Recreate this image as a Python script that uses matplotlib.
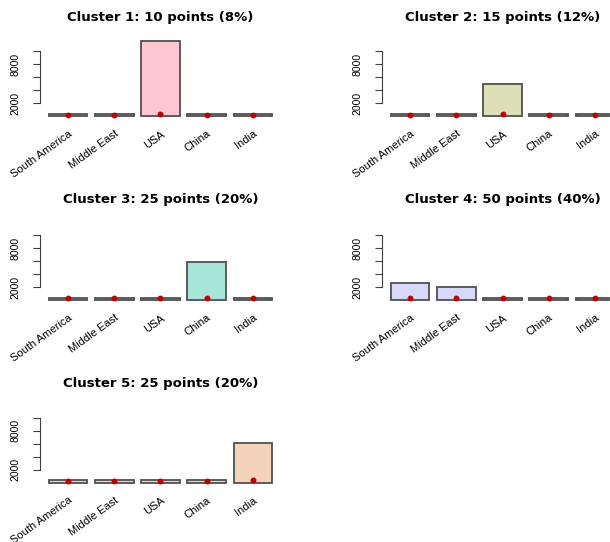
import numpy as np
import matplotlib
matplotlib.use('Agg')
import matplotlib.pyplot as plt

plt.rcParams['font.family'] = ['Liberation Sans', 'DejaVu Sans']

# data
regions = ['South America', 'Middle East', 'USA', 'China', 'India']
n_points = [10, 15, 25, 50, 25]
pct = [8, 12, 20, 40, 20]
colors = ['#ffc8d0', '#dde0b6', '#a8e6da', '#d8d8f8', '#f5d2bc']
c1 = [350, 350, 11600, 350, 350]
c2 = [350, 350, 5000, 350, 350]
c3 = [350, 350, 350, 5900, 350]
c4 = [2600, 2000, 350, 350, 350]
c5 = [350, 350, 350, 350, 6150]
means = [c1, c2, c3, c4, c5]
m1 = [200, 200, 250, 200, 230]
m2 = [200, 200, 250, 200, 230]
m3 = [250, 250, 270, 250, 300]
m4 = [300, 300, 250, 250, 280]
m5 = [280, 280, 280, 280, 420]
medians = [m1, m2, m3, m4, m5]

W, H = 610, 542
fig = plt.figure(figsize=(W / 100, H / 100), dpi=100)

# pixel layout (R style 3x2 grid)
col_left = [40, 382]
row_zero = [116, 300, 482.5]
ax_w = 241
scale = 0.0065  # px per unit
ylo, yhi = -464, 12064
title_y = [17, 200, 383]

x = 0.7 + 1.2 * np.arange(5)

for k in range(5):
    r, c = divmod(k, 2)
    left = col_left[c]
    top = row_zero[r] - yhi * scale
    bottom = row_zero[r] - ylo * scale
    ax = fig.add_axes([left / W, 1 - bottom / H, ax_w / W, (bottom - top) / H])
    ax.bar(x, means[k], width=1.0, color=colors[k], edgecolor='#505050', linewidth=1.3)
    ax.plot(x, medians[k], 'o', color='#c00000', markersize=3.2, zorder=5)
    ax.set_xlim(-0.032, 6.232)
    ax.set_ylim(ylo, yhi)
    for s in ['top', 'right', 'bottom']:
        ax.spines[s].set_visible(False)
    ax.spines['left'].set_bounds(2000, 10000)
    ax.spines['left'].set_color('#404040')
    ax.set_yticks([2000, 4000, 6000, 8000, 10000])
    ax.set_yticklabels(['2000', '', '', '8000', ''], rotation=90, va='center', fontsize=7.5)
    ax.tick_params(axis='y', length=5, color='#404040', pad=9)
    ax.set_xticks(x)
    ax.set_xticklabels(regions, rotation=36, ha='right', va='top', rotation_mode='anchor', fontsize=8)
    ax.tick_params(axis='x', length=0, pad=7)
    ax.patch.set_visible(False)
    fig.text((left + ax_w / 2) / W, 1 - title_y[r] / H,
             f'Cluster {k + 1}: {n_points[k]} points ({pct[k]}%)',
             ha='center', va='center', fontsize=9.5, fontweight='bold',
             family='DejaVu Sans')

fig.savefig('out.png', dpi=100)
